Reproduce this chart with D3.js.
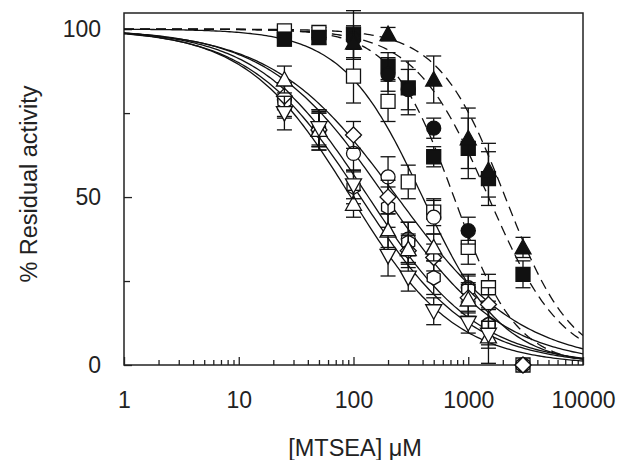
<html lang="en">
<head>
<meta charset="UTF-8">
<title>MTSEA inhibition</title>
<script src="https://d3js.org/d3.v7.min.js"></script>
<style>
  body { margin: 0; background: #fff; }
  svg { display: block; font-family: 'Liberation Sans', Arial, sans-serif; }
  .axis text { font-size: 23px; fill: #222; }
  .axis path { display: none; }
  .axis line { stroke: #222; stroke-width: 1.3; }
  .title { font-size: 23.5px; fill: #222; }
</style>
</head>
<body>
<svg id="chart" width="619" height="460"></svg>
<script>
// concentrations (µM) shared by every series
const conc = [25, 50, 100, 200, 300, 500, 1000, 1500, 3000];

// open symbols (solid fits)
const openSquare    = [99.5, 99, 86, 78.5, 54.5, 45.5, 35, 23, 0];
const openSquareErr = [1.5, 1.5, 8, 6, 5, 4, 5, 4, 0];
const openCircle    = [79, 70, 63, 56, 37.5, 44, 23, 12, 0];
const openCircleErr = [5, 6, 5, 6, 5, 5, 4, 5, 0];
const openHexagon    = [78.5, 70, 53, 47, 36.5, 26, 22.5, 12, 0];
const openHexagonErr = [5, 5, 5, 6, 6, 5, 4, 6, 0];
const openDiamond    = [80, 70, 68.5, 50, 34, 32, 20, 18, 0];
const openDiamondErr = [4, 6, 4, 5, 5, 4, 4, 5, 0];
const triUp    = [85, 70, 48, 40, 34.5, 35, 19.5, 8.5, null];
const triUpErr = [4, 5, 4, 5, 4, 4, 5, 8, 0];
const triDown    = [75, 70.5, 53.5, 32.5, 26, 16, 12.5, 9, null];
const triDownErr = [5, 5, 4, 6, 4, 4, 3, 4, 0];

// filled symbols (dashed fits)
const filledSquare    = [97, 97.5, 98.5, 89, 82.5, 62, 64.5, 55.5, 27];
const filledSquareErr = [2, 2, 7, 4, 8, 3, 9, 8, 4];
const filledCircle    = [null, null, 97, 86.5, 82, 70.5, 40, null, null];
const filledCircleErr = [0, 0, 3, 5, 6, 3, 4, 0, 0];
const filledTri    = [null, null, 96, 98.5, null, 85, 67.5, 58, 35];
const filledTriErr = [0, 0, 5, 2, 0, 7, 9, 8, 3];

// fitted dose-response curves: IC50 (µM) and Hill slope
const fitNames = ['openSquare', 'openCircle', 'openHexagon', 'openDiamond', 'triUp', 'triDown', 'filledSquare', 'filledCircle', 'filledTri'];
const fitIC50  = [400, 190, 135, 240, 115, 95, 1500, 750, 2100];
const fitHill  = [1.25, 0.85, 0.9, 0.8, 0.9, 0.95, 1.35, 1.6, 1.5];
const fitDashed = [false, false, false, false, false, false, true, true, true];

const xTicks = [1, 10, 100, 1000, 10000];
const yTicks = [0, 50, 100];
const yMinorTicks = [25, 75];

const series = [
  { name: 'openSquare', y: openSquare, err: openSquareErr, shape: 'square', fill: false },
  { name: 'openCircle', y: openCircle, err: openCircleErr, shape: 'circle', fill: false },
  { name: 'openHexagon', y: openHexagon, err: openHexagonErr, shape: 'hexagon', fill: false },
  { name: 'openDiamond', y: openDiamond, err: openDiamondErr, shape: 'diamond', fill: false },
  { name: 'triUp', y: triUp, err: triUpErr, shape: 'triUp', fill: false },
  { name: 'triDown', y: triDown, err: triDownErr, shape: 'triDown', fill: false },
  { name: 'filledSquare', y: filledSquare, err: filledSquareErr, shape: 'square', fill: true },
  { name: 'filledCircle', y: filledCircle, err: filledCircleErr, shape: 'circle', fill: true },
  { name: 'filledTri', y: filledTri, err: filledTriErr, shape: 'triUp', fill: true }
];

const plotLeft = 124, plotRight = 583, plotTop = 13, plotBottom = 365;
const svg = d3.select('#chart');

const x = d3.scaleLog().domain([1, 10000]).range([plotLeft, plotRight]);
const y = d3.scaleLinear().domain([0, 104.8]).range([plotBottom, plotTop]);

// axes: ticks point inward
const minorX = [];
for (let d = 1; d < 10000; d *= 10) for (let k = 2; k <= 9; k++) minorX.push(d * k);

svg.append('g').attr('class', 'axis')
  .attr('transform', `translate(0,${plotBottom})`)
  .call(d3.axisBottom(x).tickValues(minorX).tickSize(-5).tickFormat(''));
svg.append('g').attr('class', 'axis')
  .attr('transform', `translate(0,${plotBottom})`)
  .call(d3.axisBottom(x).tickValues(xTicks).tickSize(-8).tickPadding(27).tickFormat(d3.format('d')));

svg.append('g').attr('class', 'axis')
  .attr('transform', `translate(${plotLeft},0)`)
  .call(d3.axisLeft(y).tickValues(yMinorTicks).tickSize(-6).tickFormat(''));
svg.append('g').attr('class', 'axis')
  .attr('transform', `translate(${plotLeft},0)`)
  .call(d3.axisLeft(y).tickValues(yTicks).tickSize(-8).tickPadding(23).tickFormat(d3.format('d')));

svg.append('rect')
  .attr('x', plotLeft).attr('y', plotTop)
  .attr('width', plotRight - plotLeft).attr('height', plotBottom - plotTop)
  .attr('fill', 'none').attr('stroke', '#222').attr('stroke-width', 1.5);

// fitted curves
svg.append('clipPath').attr('id', 'plotClip')
  .append('rect').attr('x', plotLeft).attr('y', plotTop)
  .attr('width', plotRight - plotLeft).attr('height', plotBottom - plotTop);

const curveX = d3.range(0, 4.001, 0.02).map(e => Math.pow(10, e));
const line = d3.line().x(d => x(d[0])).y(d => y(d[1]));

const curves = svg.append('g').attr('clip-path', 'url(#plotClip)');
fitNames.forEach((name, i) => {
  const pts = curveX.map(c => [c, 100 / (1 + Math.pow(c / fitIC50[i], fitHill[i]))]);
  curves.append('path')
    .attr('d', line(pts))
    .attr('fill', 'none')
    .attr('stroke', '#111')
    .attr('stroke-width', 1.3)
    .attr('stroke-dasharray', fitDashed[i] ? '10,6' : null);
});

// symbol shapes
function shapePath(shape) {
  switch (shape) {
    case 'square': return 'M-7,-7H7V7H-7Z';
    case 'diamond': return 'M0,-8L8,0L0,8L-8,0Z';
    case 'triUp': return 'M0,-8L8,6.5L-8,6.5Z';
    case 'triDown': return 'M0,8L8,-6.5L-8,-6.5Z';
    case 'hexagon': {
      const p = d3.range(6).map(k => {
        const a = Math.PI / 6 + k * Math.PI / 3;
        return [7.5 * Math.cos(a), 7.5 * Math.sin(a)];
      });
      return 'M' + p.map(q => q.join(',')).join('L') + 'Z';
    }
    default: return null;
  }
}

const points = svg.append('g');
series.forEach(s => {
  const data = conc.map((c, i) => ({ c, v: s.y[i], e: s.err[i] })).filter(d => d.v != null);

  const bars = points.append('g');
  data.filter(d => d.e > 0).forEach(d => {
    const g = bars.append('g').attr('stroke', '#111').attr('stroke-width', 1.3);
    g.append('line').attr('x1', x(d.c)).attr('x2', x(d.c)).attr('y1', y(d.v - d.e)).attr('y2', y(d.v + d.e));
    [d.v - d.e, d.v + d.e].forEach(v => {
      g.append('line').attr('x1', x(d.c) - 7.5).attr('x2', x(d.c) + 7.5).attr('y1', y(v)).attr('y2', y(v));
    });
  });

  data.forEach(d => {
    const fill = s.fill ? '#111' : '#fff';
    if (s.shape === 'circle') {
      points.append('circle')
        .attr('cx', x(d.c)).attr('cy', y(d.v)).attr('r', 7)
        .attr('fill', fill).attr('stroke', '#111').attr('stroke-width', 1.3);
    } else {
      points.append('path')
        .attr('transform', `translate(${x(d.c)},${y(d.v)})`)
        .attr('d', shapePath(s.shape))
        .attr('fill', fill).attr('stroke', '#111').attr('stroke-width', 1.3);
    }
  });
});

// titles
svg.append('text').attr('class', 'title')
  .attr('x', 355).attr('y', 456)
  .attr('text-anchor', 'middle')
  .text('[MTSEA] μM');

svg.append('text').attr('class', 'title')
  .attr('transform', 'translate(37,184) rotate(-90)')
  .attr('text-anchor', 'middle')
  .text('% Residual activity');
</script>
</body>
</html>
